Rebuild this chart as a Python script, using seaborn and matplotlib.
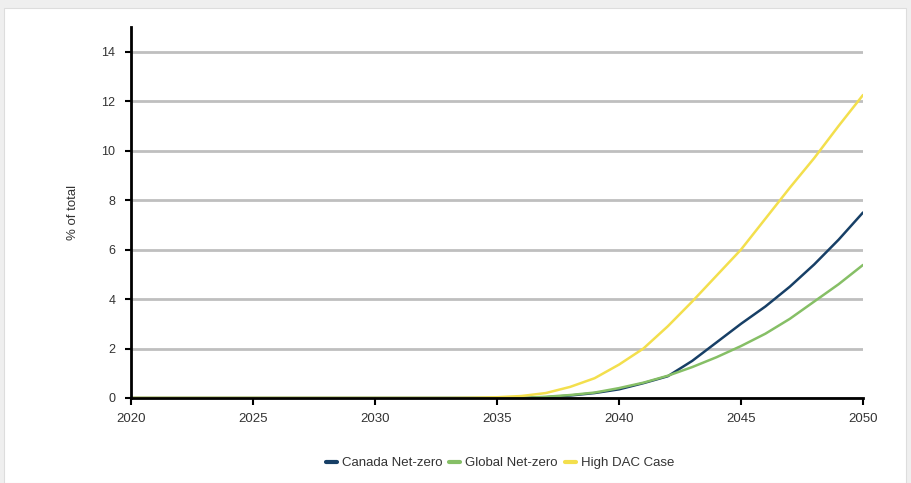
import numpy as np
import pandas as pd
import matplotlib
matplotlib.use("Agg")
import matplotlib.pyplot as plt
import seaborn as sns
from matplotlib.patches import Rectangle
from matplotlib.lines import Line2D

# annual values, % of total
years = list(range(2020, 2051))
canada = [0]*16 + [0.0, 0.03, 0.1, 0.2, 0.35, 0.6, 0.88, 1.5, 2.25, 3.0, 3.7, 4.5, 5.4, 6.4, 7.5]
global_nz = [0]*16 + [0.0, 0.05, 0.12, 0.22, 0.4, 0.62, 0.9, 1.25, 1.65, 2.1, 2.6, 3.2, 3.9, 4.6, 5.38]
high_dac = [0]*14 + [0.01, 0.03, 0.08, 0.2, 0.45, 0.8, 1.35, 2.0, 2.9, 3.9, 4.95, 6.0, 7.25, 8.5, 9.7, 11.0, 12.25]

series = ["Canada Net-zero", "Global Net-zero", "High DAC Case"]
colours = ["#173f66", "#86bf66", "#f3df4d"]

df = pd.concat([
    pd.DataFrame({"year": years, "value": canada, "case": series[0]}),
    pd.DataFrame({"year": years, "value": global_nz, "case": series[1]}),
    pd.DataFrame({"year": years, "value": high_dac, "case": series[2]}),
])

sns.set_style("white")
plt.rcParams['font.family'] = ['Liberation Sans', 'DejaVu Sans']

fig = plt.figure(figsize=(9.11, 4.83), dpi=100)
fig.patch.set_facecolor("#efefef")
bg = Rectangle((4/911, 0), 902/911, 475/483, transform=fig.transFigure,
               facecolor="white", edgecolor="#dddddd", lw=0.8, zorder=-10)
fig.add_artist(bg)
ax = fig.add_axes([131/911, 85/483, 732/911, 371/483])
ax.set_facecolor("none")

sns.lineplot(data=df, x="year", y="value", hue="case", palette=colours,
             hue_order=series, linewidth=1.8, ax=ax, legend=False)

ax.set_xlim(2020, 2050)
ax.set_ylim(0, 15)
ax.set_xticks(range(2020, 2051, 5))
ax.set_yticks(range(0, 15, 2))
ax.yaxis.grid(True, color="#bfbfbf", lw=2)
ax.set_axisbelow(True)
for s in ["top", "right"]:
    ax.spines[s].set_visible(False)
for s in ["left", "bottom"]:
    ax.spines[s].set_color("black")
    ax.spines[s].set_linewidth(2)
    ax.spines[s].set_zorder(5)
ax.tick_params(axis="both", direction="out", width=1.5, color="black",
               labelsize=9.5, labelcolor="#333333", bottom=True, left=True)
ax.tick_params(axis="x", length=5, pad=6)
ax.tick_params(axis="y", length=4.3, pad=7, labelsize=9)
ax.set_xlabel("")
ax.set_ylabel("% of total", fontsize=9.5, color="#333333", labelpad=16)

handles = [Line2D([], [], color=c, lw=3) for c in colours]
fig.legend(handles, series, loc="center", bbox_to_anchor=(500/911, 1 - 463/483),
           ncol=3, frameon=False, fontsize=9.5, handlelength=0.85, handletextpad=0.38,
           columnspacing=0.5, labelcolor="#333333")

fig.savefig("out.png", dpi=100)
